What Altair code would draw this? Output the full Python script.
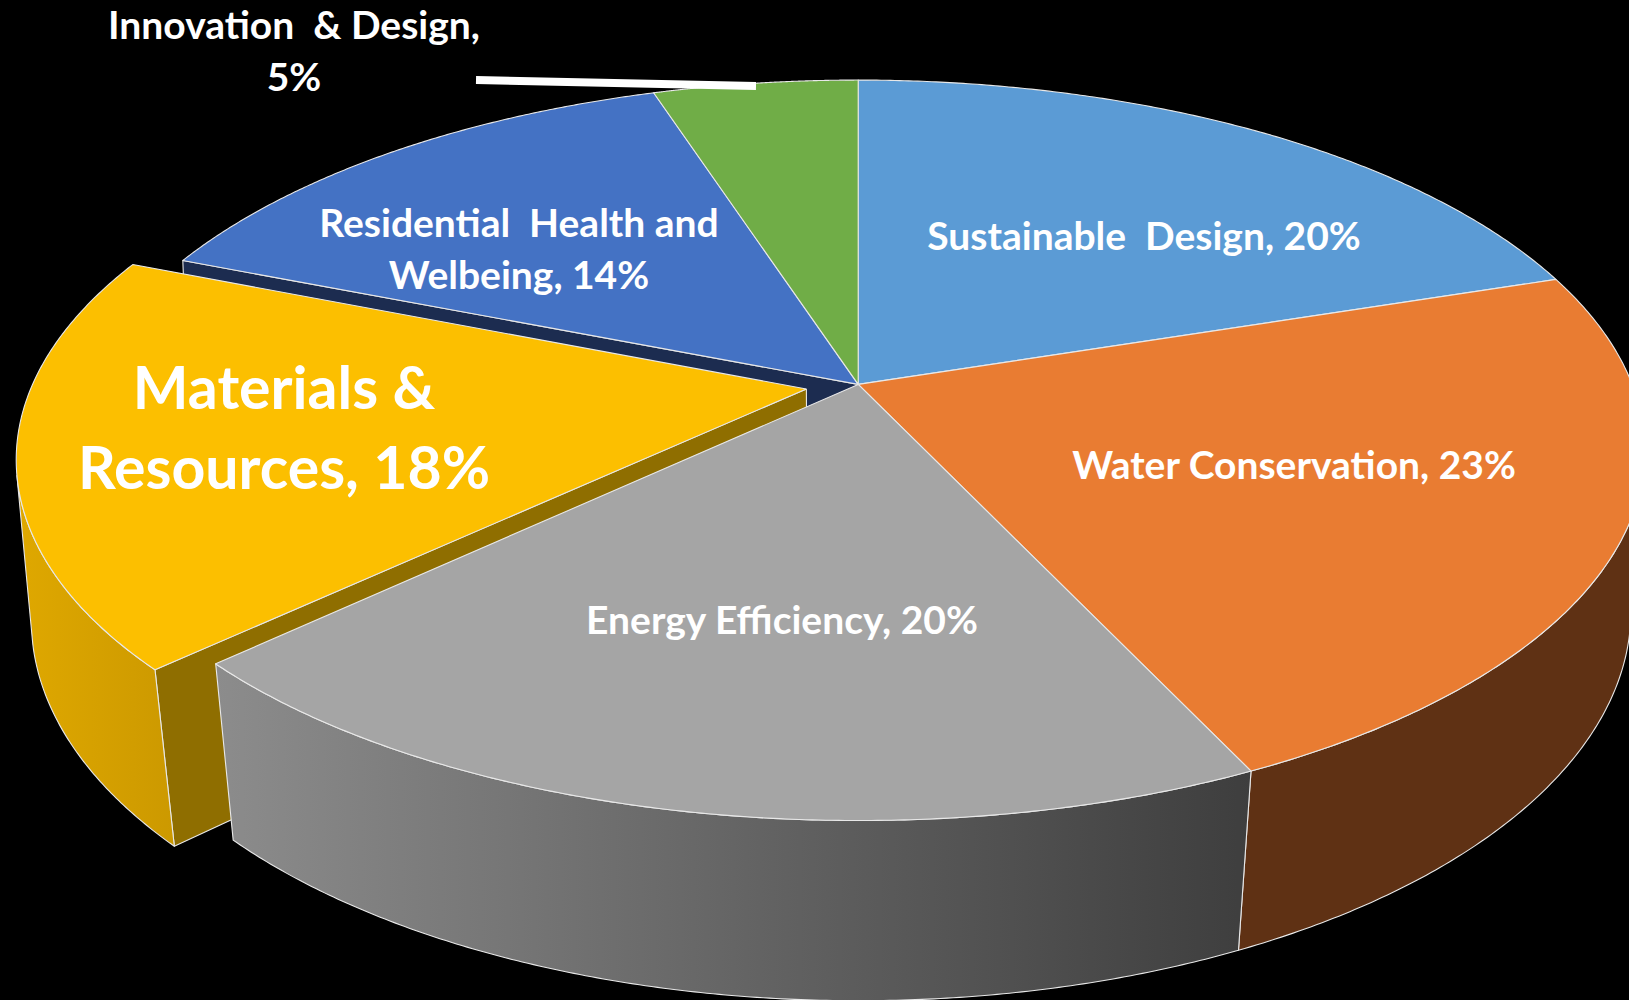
import math
import altair as alt
import pandas as pd

# Category shares, clockwise from twelve o'clock
categories = ["Sustainable Design", "Water Conservation", "Energy Efficiency",
              "Materials & Resources", "Residential Health and Welbeing", "Innovation & Design"]
shares = [20, 23, 20, 18, 14, 5]
top_colors = ["#5B9BD5", "#E97C32", "#A5A5A5", "#FCBF00", "#4472C4", "#70AD47"]

W, H = 1629, 1000

# Perspective camera for the tilted disc
CX, CY = 858.2, 384.4
RX, RY = 774.0, 358.5
TILT = 0.178
TILT_LOWER = 0.164
DEPTH_W, DEPTH_Y = 0.015, 166.0
EXPLODE = 0.068  # pull-out distance of the Materials slice
EDGE = "#E8E8E8"


def project(px, py, lower=False):
    if lower:
        w = 1 - TILT_LOWER * py + DEPTH_W
        return (CX + RX * px / w, CY + (RY * py + DEPTH_Y) / w)
    w = 1 - TILT * py
    return (CX + RX * px / w, CY + RY * py / w)


cum = [0]
for s in shares:
    cum.append(cum[-1] + s)


def offset(i):
    if categories[i] != "Materials & Resources":
        return (0.0, 0.0)
    mid = 2 * math.pi * (cum[i] + cum[i + 1]) / 200
    return (EXPLODE * math.sin(mid), -EXPLODE * math.cos(mid))


def rim(i, steps=180):
    """Disc-plane points along the outer rim of slice i."""
    a, b = cum[i], cum[i + 1]
    off = offset(i)
    pts = []
    for j in range(steps + 1):
        t = 2 * math.pi * (a + (b - a) * j / steps) / 100
        pts.append((math.sin(t) + off[0], -math.cos(t) + off[1]))
    return pts


def frame(points):
    return pd.DataFrame([{"x": x, "y": y, "n": n} for n, (x, y) in enumerate(points)])


def top_face(i):
    o = offset(i)
    ring = [project(*o)] + [project(*p) for p in rim(i)] + [project(*o)]
    return frame(ring)


def wall(i):
    """Outer wall of slice i, trimmed at the generator tangent to the rim."""
    r = rim(i)
    upper = [project(*p) for p in r]
    lower = [project(*p, lower=True) for p in r]
    keep = []
    for j in range(len(r) - 1):
        dx, dy = upper[j + 1][0] - upper[j][0], upper[j + 1][1] - upper[j][1]
        gx, gy = lower[j][0] - upper[j][0], lower[j][1] - upper[j][1]
        if dx * gy - dy * gx < 0:
            keep.append(j)
    keep.append(keep[-1] + 1)
    ring = [upper[j] for j in keep] + [lower[j] for j in reversed(keep)]
    return frame(ring + ring[:1])


def cut_face(i):
    """Radial face at the start of slice i, from the axis out to the rim."""
    o = offset(i)
    t = 2 * math.pi * cum[i] / 100
    p = (math.sin(t) + o[0], -math.cos(t) + o[1])
    ring = [project(*o), project(*p), project(*p, lower=True), project(*o, lower=True)]
    return frame(ring + ring[:1])


x_scale = alt.Scale(domain=[0, W], range=[0, W], nice=False, zero=False)
y_scale = alt.Scale(domain=[0, H], range=[0, H], nice=False, zero=False)


def shape(df, fill):
    return alt.Chart(df).mark_line(
        fill=fill, stroke=EDGE, strokeWidth=1.1, interpolate="linear", clip=True, strokeJoin="round"
    ).encode(
        x=alt.X("x:Q", scale=x_scale, axis=None),
        y=alt.Y("y:Q", scale=y_scale, axis=None),
        order="n:Q",
    )


def ramp(left, right):
    return alt.LinearGradient(
        gradient="linear", x1=0, x2=1, y1=0, y2=0,
        stops=[alt.GradientStop(color=left, offset=0), alt.GradientStop(color=right, offset=1)],
    )


idx = {c: i for i, c in enumerate(categories)}
water = idx["Water Conservation"]
energy = idx["Energy Efficiency"]
materials = idx["Materials & Resources"]
residential = idx["Residential Health and Welbeing"]

layers = [
    shape(cut_face(residential), "#1C2C50"),
    shape(cut_face(materials), "#8F6E00"),
    shape(wall(materials), ramp("#DFA800", "#CC9900")),
    shape(top_face(materials), top_colors[materials]),
    shape(wall(water), "#5F3114"),
    shape(wall(energy), ramp("#8C8C8C", "#3E3E3E")),
]
for i in range(len(categories)):
    if i != materials:
        layers.append(shape(top_face(i), top_colors[i]))

# Leader line for the outside label
leader = alt.Chart(pd.DataFrame({"x": [476, 756], "y": [80, 86]})).mark_line(
    color="white", strokeWidth=8, strokeCap="butt"
).encode(
    x=alt.X("x:Q", scale=x_scale, axis=None),
    y=alt.Y("y:Q", scale=y_scale, axis=None),
)
layers.append(leader)

# Data labels, one row per line of text
label_rows = [
    ("Innovation\u00a0 & Design,", 294, 27, 39),
    ("5%", 294, 79, 39),
    ("Residential\u00a0 Health and", 519, 225, 39),
    ("Welbeing, 14%", 519, 277, 39),
    ("Materials &", 284, 391, 59),
    ("Resources, 18%", 284, 471, 59),
    ("Sustainable\u00a0 Design, 20%", 1144, 238, 39),
    ("Water Conservation, 23%", 1294, 467, 39),
    ("Energy Efficiency, 20%", 782, 622, 39),
]
for text, lx, ly, size in label_rows:
    layers.append(
        alt.Chart(pd.DataFrame({"x": [lx], "y": [ly], "t": [text]})).mark_text(
            font="Lato", fontWeight="bold", fontSize=size, color="white",
            align="center", baseline="middle",
        ).encode(
            x=alt.X("x:Q", scale=x_scale, axis=None),
            y=alt.Y("y:Q", scale=y_scale, axis=None),
            text="t:N",
        )
    )

chart = alt.layer(*layers).properties(
    width=W, height=H, background="black", padding=0,
    autosize=alt.AutoSizeParams(type="none"),
).configure_view(stroke=None)

chart.save("out.html", embed_options={"renderer": "svg", "actions": False})
